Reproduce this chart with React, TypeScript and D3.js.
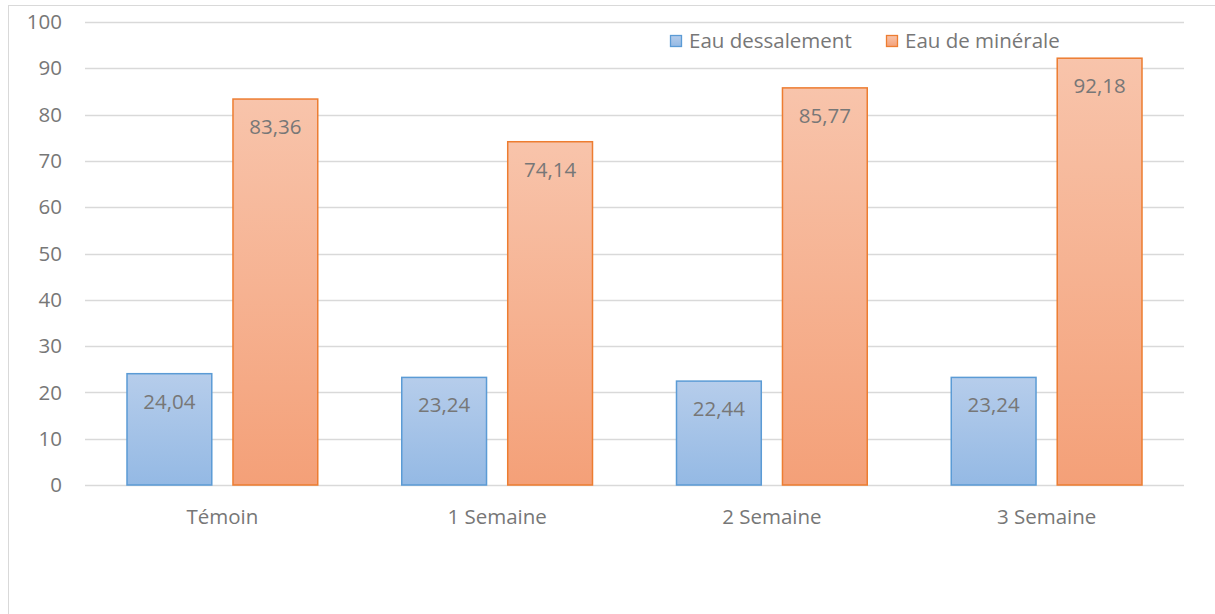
import React from 'react';
import * as d3 from 'd3';

const width = 1215;
const height = 614;

const categories = ['Témoin', '1 Semaine', '2 Semaine', '3 Semaine'];
const seriesNames = ['Eau dessalement', 'Eau de minérale'];
const dessalement = [24.04, 23.24, 22.44, 23.24];
const minerale = [83.36, 74.14, 85.77, 92.18];
const yTicks = [0, 10, 20, 30, 40, 50, 60, 70, 80, 90, 100];

const plot = { left: 85, right: 1184, top: 22, bottom: 485 };
const font = '"Open Sans", "Noto Sans", sans-serif';
const textColor = '#777777';
const fs = 20.5;

const seriesStyle = [
  { stroke: '#5b9bd5', top: '#b6cdeb', bottom: '#94b9e4', id: 'gBlue' },
  { stroke: '#ed7d31', top: '#f8c4ab', bottom: '#f4a078', id: 'gOrange' },
];

const App = () => {
  const x = d3.scaleBand().domain(categories).range([plot.left, plot.right]);
  const inner = d3
    .scaleBand()
    .domain(seriesNames)
    .range([42, x.bandwidth() - 42])
    .paddingInner(0.2);
  const y = d3.scaleLinear().domain([0, 100]).range([plot.bottom, plot.top]);
  const values = [dessalement, minerale];
  const fmt = (v: number) => v.toFixed(2).replace('.', ',');

  return (
    <svg
      width={width}
      height={height}
      style={{ position: 'absolute', left: 0, top: 0, fontFamily: font }}
    >
      <defs>
        {seriesStyle.map(s => (
          <linearGradient key={s.id} id={s.id} x1="0" y1="0" x2="0" y2="1">
            <stop offset="0%" stopColor={s.top} />
            <stop offset="100%" stopColor={s.bottom} />
          </linearGradient>
        ))}
      </defs>
      <rect x={0} y={0} width={width} height={height} fill="#fff" />
      {/* chart frame, right/bottom edges outside the picture */}
      <rect x={8.5} y={5.5} width={width + 10} height={height + 10} fill="none" stroke="#d9d9d9" />

      {/* gridlines */}
      {yTicks.map(t => (
        <line
          key={t}
          x1={plot.left}
          x2={plot.right}
          y1={Math.round(y(t)) + 0.5}
          y2={Math.round(y(t)) + 0.5}
          stroke="#d9d9d9"
          strokeWidth={1.3}
        />
      ))}

      {/* y labels */}
      {yTicks.map(t => (
        <text
          key={t}
          x={62}
          y={y(t)}
          dy="0.35em"
          textAnchor="end"
          fontSize={fs}
          fill={textColor}
        >
          {t}
        </text>
      ))}

      {/* bars */}
      {categories.map((c, i) => (
        <g key={c} transform={`translate(${x(c)},0)`}>
          {seriesNames.map((s, j) => {
            const v = values[j][i];
            const bx = inner(s)!;
            const bw = inner.bandwidth();
            return (
              <g key={s}>
                <rect
                  x={bx}
                  y={y(v)}
                  width={bw}
                  height={y(0) - y(v)}
                  fill={`url(#${seriesStyle[j].id})`}
                  stroke={seriesStyle[j].stroke}
                  strokeWidth={1.5}
                />
                <text
                  x={bx + bw / 2}
                  y={y(v) + 35}
                  textAnchor="middle"
                  fontSize={fs}
                  fill={textColor}
                >
                  {fmt(v)}
                </text>
              </g>
            );
          })}
          <text
            x={x.bandwidth() / 2}
            y={524}
            textAnchor="middle"
            fontSize={fs}
            fill={textColor}
          >
            {c}
          </text>
        </g>
      ))}

      {/* legend */}
      {seriesNames.map((s, j) => {
        const lx = j === 0 ? 670 : 886;
        return (
          <g key={s} transform={`translate(${lx},35)`}>
            <rect
              x={0.5}
              y={0.5}
              width={11}
              height={11}
              fill={`url(#${seriesStyle[j].id})`}
              stroke={seriesStyle[j].stroke}
              strokeWidth={1.3}
            />
            <text x={19} y={6} dy="0.35em" fontSize={fs} fill={textColor}>
              {s}
            </text>
          </g>
        );
      })}
    </svg>
  );
};

export default App;
